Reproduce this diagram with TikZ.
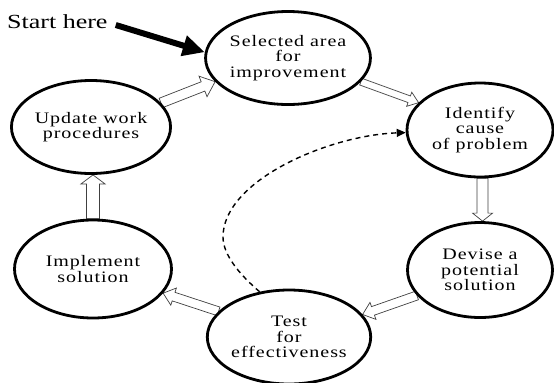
\documentclass[tikz,border=0pt]{standalone}
\usepackage{fontspec}
\setmainfont{Liberation Serif}
\newfontfamily\ellfont[FakeStretch=1.25,LetterSpace=6]{Liberation Serif}
\newfontfamily\startfont[FakeStretch=1.3]{Liberation Serif}
\usetikzlibrary{shapes.geometric,arrows.meta,calc}
\pgfdeclarelayer{bg}
\pgfsetlayers{bg,main}

\tikzset{
 stage/.style={ellipse, draw=black, line width=2.8bp, fill=white, inner sep=0pt, align=center,
   font=\ellfont\fontsize{16bp}{15.5bp}\selectfont},
 blockarrow/.style={draw=black!75, line width=0.7bp, fill=white, line join=miter},
 feedback/.style={dash pattern=on 5bp off 4bp, line width=1.4bp, -{Triangle[length=9bp,width=8bp]}},
 startarrow/.style={line width=6bp, -{Triangle[length=22bp,width=20bp]}},
}

% #1 from, #2 to, #3 shaft half width, #4 head half width, #5 head length
\newcommand{\blockarr}[5]{%
  \path (#1) coordinate (ba-s) (#2) coordinate (ba-e);
  \path ($(ba-e)!#5!(ba-s)$) coordinate (ba-h);
  \draw[blockarrow] ($(ba-s)!#3!90:(ba-e)$) -- ($(ba-h)!#3!-90:(ba-s)$)
     -- ($(ba-h)!#4!-90:(ba-s)$) -- (ba-e) -- ($(ba-h)!#4!90:(ba-s)$)
     -- ($(ba-h)!#3!90:(ba-s)$) -- ($(ba-s)!#3!-90:(ba-e)$) -- cycle;
}

\begin{document}
\begin{tikzpicture}[x=1bp,y=-1bp]
\useasboundingbox (0,0) rectangle (554,382);

\node[stage, minimum width=150bp, minimum height=93bp] (sel) at (288,58) {Selected area\\for\\improvement};
\node[stage, minimum width=146bp, minimum height=94bp] (ide) at (480,130) {Identify\\cause\\of problem};
\node[stage, minimum width=145bp, minimum height=95bp] (dev) at (480,270) {Devise a\\potential\\solution};
\node[stage, minimum width=148bp, minimum height=94bp] (tst) at (289,337) {Test\\for\\effectiveness};
\node[stage, minimum width=157bp, minimum height=98bp] (imp) at (93,269) {Implement\\solution};
\node[stage, minimum width=152bp, minimum height=93bp] (upd) at (91,127) {Update work\\procedures};

\node[anchor=base west, inner sep=0pt, font=\startfont\fontsize{20bp}{20bp}\selectfont] (start) at (7,28) {Start here};

\begin{pgfonlayer}{bg}
  \blockarr{upd.19}{sel.198.7}{5bp}{11bp}{13bp}
  \blockarr{sel.342}{ide.156.8}{3.5bp}{7.5bp}{10bp}
  \blockarr{ide.-87}{dev.87}{5.5bp}{10bp}{8bp}
  \blockarr{dev.202.6}{tst.17.6}{4.5bp}{9bp}{11bp}
  \blockarr{tst.160.5}{imp.341}{4.5bp}{9bp}{11bp}
  \blockarr{imp.north}{imp.north |- upd.south}{6.5bp}{12bp}{9bp}
  \draw[startarrow] ([xshift=8bp,yshift=3bp]start.base east) -- (sel.176);
\end{pgfonlayer}

\coordinate (fbmid) at (223,237);
\draw[feedback] (tst.123) .. controls (240,275) and (223,255) .. (fbmid)
   .. controls (223,180) and (330,135) .. (ide.182);
\end{tikzpicture}
\end{document}
